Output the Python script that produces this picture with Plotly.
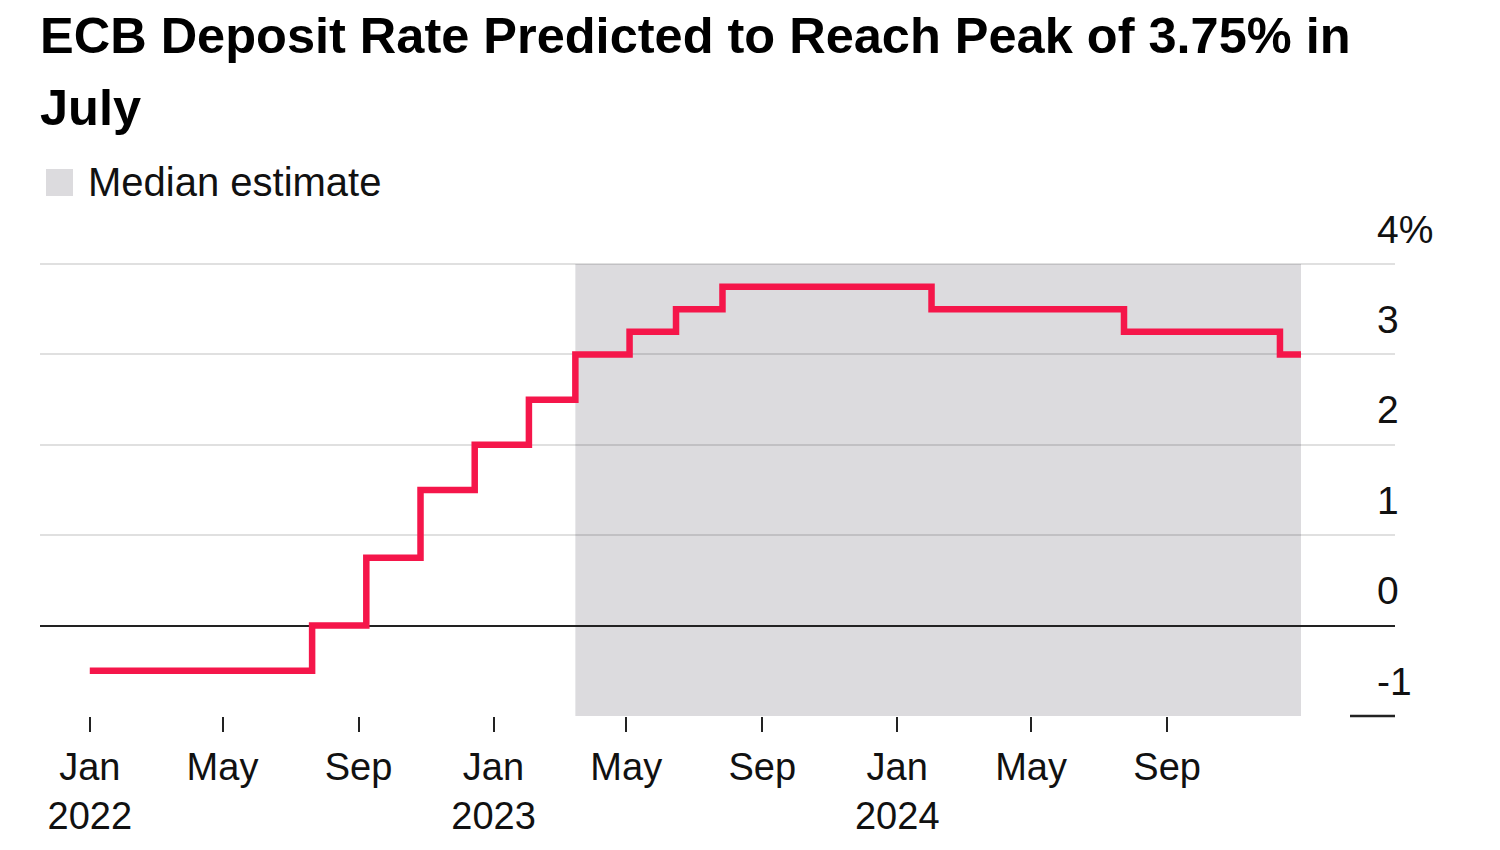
import plotly.graph_objects as go

# ---------------- data ----------------
step_dates = ["2022-01-01", "2022-07-21", "2022-09-08", "2022-10-27", "2022-12-15",
              "2023-02-02", "2023-03-16", "2023-05-04", "2023-06-15", "2023-07-27",
              "2024-02-01", "2024-07-24", "2024-12-12", "2024-12-31"]
deposit_rate = [-0.5, 0.0, 0.75, 1.5, 2.0,
                2.5, 3.0, 3.25, 3.5, 3.75,
                3.5, 3.25, 3.0, 3.0]

median_start = "2023-03-16"
median_end = "2024-12-31"

x_tick_vals = ["2022-01-01", "2022-05-01", "2022-09-01", "2023-01-01", "2023-05-01",
               "2023-09-01", "2024-01-01", "2024-05-01", "2024-09-01"]
x_tick_text = ["Jan<br>2022", "May", "Sep", "Jan<br>2023", "May",
               "Sep", "Jan<br>2024", "May", "Sep"]

y_tick_vals = [-1, 0, 1, 2, 3, 4]
y_tick_text = ["-1", "0", "1", "2", "3", "4%"]
y_grid_vals = [0, 1, 2, 3, 4]

title_line1 = "ECB Deposit Rate Predicted to Reach Peak of 3.75% in"
title_line2 = "July"
legend_label = "Median estimate"

# ---------------- layout helpers ----------------
W, H = 1500, 850
L, R, T, B = 40, 1395, 263, 716
FONT = "Liberation Sans, Arial, Helvetica, sans-serif"
RED = "#F5164A"
SHADE = "#DCDBDE"
TXT = "#111111"


def px_x(x):
    return (x - L) / (R - L)


def px_y(y):
    return (B - y) / (B - T)


fig = go.Figure()

fig.add_trace(go.Scatter(
    x=step_dates, y=deposit_rate, mode="lines",
    line=dict(color=RED, width=6.5, shape="hv"),
    showlegend=False, hoverinfo="x+y",
))

# median estimate shading
fig.add_shape(type="rect", xref="x", yref="y",
              x0=median_start, x1=median_end, y0=-1, y1=4,
              fillcolor=SHADE, line_width=0, layer="below")

# short baseline mark at the -1 level (plot bottom), right side
fig.add_shape(type="line", xref="paper", yref="paper",
              x0=px_x(1350), x1=1, y0=0, y1=0,
              line=dict(color="#222222", width=2.5))

# legend swatch + label
fig.add_shape(type="rect", xref="paper", yref="paper",
              x0=px_x(46), x1=px_x(73), y0=px_y(196), y1=px_y(169),
              fillcolor=SHADE, line_width=0)
fig.add_annotation(xref="paper", yref="paper", x=px_x(86), y=px_y(182),
                   xanchor="left", yanchor="middle", showarrow=False,
                   text=legend_label, font=dict(family=FONT, size=40, color=TXT))

# title
fig.add_annotation(xref="paper", yref="paper", x=px_x(38), y=px_y(35),
                   xanchor="left", yanchor="middle", showarrow=False,
                   text="<b>" + title_line1 + "</b>",
                   font=dict(family=FONT, size=50.5, color="#000000"))
fig.add_annotation(xref="paper", yref="paper", x=px_x(38), y=px_y(107),
                   xanchor="left", yanchor="middle", showarrow=False,
                   text="<b>" + title_line2 + "</b>",
                   font=dict(family=FONT, size=50.5, color="#000000"))

# right-side y tick labels, sitting above their gridlines
for v, t in zip(y_tick_vals, y_tick_text):
    fig.add_annotation(xref="paper", yref="y", x=px_x(1375), y=v, yshift=35,
                       xanchor="left", yanchor="middle", showarrow=False,
                       text=t, font=dict(family=FONT, size=39, color=TXT))

fig.update_layout(
    width=W, height=H,
    margin=dict(l=L, r=W - R, t=T, b=H - B, autoexpand=False),
    paper_bgcolor="white", plot_bgcolor="white",
    showlegend=False,
    font=dict(family=FONT, size=38, color=TXT),
    xaxis=dict(
        type="date",
        range=["2021-11-17", "2025-03-26"],
        tickmode="array", tickvals=x_tick_vals, ticktext=x_tick_text,
        ticks="outside", ticklen=15, tickwidth=2, tickcolor="#222222",
        showgrid=False, showline=False, zeroline=False, automargin=False,
        tickfont=dict(family=FONT, size=38, color=TXT),
        ticklabelstandoff=2,
    ),
    yaxis=dict(
        range=[-1, 4.012],
        tickmode="array", tickvals=y_grid_vals,
        showticklabels=False, ticks="",
        showgrid=True, gridcolor="rgba(0,0,0,0.12)", gridwidth=2,
        zeroline=True, zerolinecolor="#222222", zerolinewidth=2,
        showline=False, automargin=False,
    ),
)

fig.write_html("out.html")
